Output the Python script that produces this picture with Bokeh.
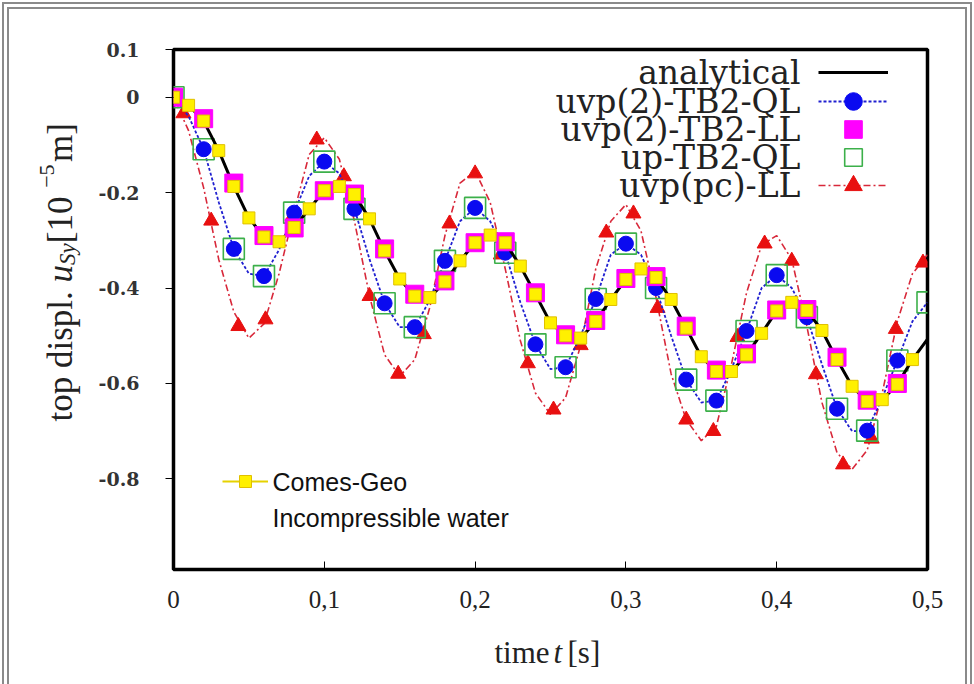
import math
from bokeh.plotting import figure
from bokeh.layouts import row, column
from bokeh.models import (Label, Legend, LegendItem, FixedTicker, CustomJSTickFormatter)
from bokeh.embed import file_html
from bokeh.resources import INLINE

# ---------------- data ----------------
t_fine = [0.00, 0.01, 0.02, 0.03, 0.04, 0.05, 0.06, 0.07, 0.08, 0.09,
          0.10, 0.11, 0.12, 0.13, 0.14, 0.15, 0.16, 0.17, 0.18, 0.19,
          0.20, 0.21, 0.22, 0.23, 0.24, 0.25, 0.26, 0.27, 0.28, 0.29,
          0.30, 0.31, 0.32, 0.33, 0.34, 0.35, 0.36, 0.37, 0.38, 0.39,
          0.40, 0.41, 0.42, 0.43, 0.44, 0.45, 0.46, 0.47, 0.48, 0.49, 0.50]

analytical = [0.0, -0.017, -0.05, -0.112, -0.187, -0.253, -0.293, -0.303, -0.273, -0.234,
              -0.196, -0.187, -0.204, -0.255, -0.322, -0.381, -0.417, -0.42, -0.387, -0.343,
              -0.305, -0.289, -0.305, -0.354, -0.413, -0.473, -0.50, -0.505, -0.47, -0.424,
              -0.382, -0.36, -0.378, -0.424, -0.484, -0.544, -0.575, -0.575, -0.54, -0.495,
              -0.448, -0.43, -0.447, -0.489, -0.55, -0.606, -0.638, -0.634, -0.602, -0.55, -0.507]

t_comes = t_fine[:50]
comes_geo = [0.0, -0.017, -0.05, -0.112, -0.187, -0.253, -0.293, -0.303, -0.273, -0.234,
             -0.196, -0.187, -0.204, -0.255, -0.322, -0.381, -0.417, -0.42, -0.387, -0.343,
             -0.305, -0.289, -0.305, -0.354, -0.413, -0.473, -0.50, -0.505, -0.47, -0.424,
             -0.382, -0.36, -0.378, -0.424, -0.484, -0.544, -0.575, -0.575, -0.54, -0.495,
             -0.448, -0.43, -0.447, -0.489, -0.55, -0.606, -0.638, -0.634, -0.602, -0.55]

blue_curve = [0.0, -0.04, -0.109, -0.22, -0.318, -0.37, -0.375, -0.32, -0.242, -0.165,
              -0.135, -0.16, -0.234, -0.34, -0.432, -0.482, -0.482, -0.425, -0.343, -0.26,
              -0.232, -0.26, -0.326, -0.43, -0.518, -0.57, -0.566, -0.50, -0.423, -0.33,
              -0.307, -0.33, -0.40, -0.50, -0.592, -0.64, -0.636, -0.57, -0.49, -0.40,
              -0.373, -0.40, -0.461, -0.56, -0.653, -0.70, -0.699, -0.63, -0.552, -0.47, -0.43]

red_curve = [0.0, -0.07, -0.19, -0.34, -0.45, -0.505, -0.475, -0.37, -0.24, -0.12,
             -0.085, -0.13, -0.26, -0.417, -0.54, -0.585, -0.55, -0.44, -0.29, -0.18,
             -0.155, -0.22, -0.36, -0.51, -0.62, -0.665, -0.63, -0.52, -0.36, -0.26,
             -0.225, -0.28, -0.42, -0.58, -0.676, -0.72, -0.69, -0.56, -0.41, -0.31,
             -0.29, -0.34, -0.48, -0.64, -0.745, -0.78, -0.74, -0.62, -0.47, -0.37, -0.33]

t_blue_pts = [0.02, 0.04, 0.06, 0.08, 0.10, 0.12, 0.14, 0.16, 0.18, 0.20, 0.22, 0.24,
              0.26, 0.28, 0.30, 0.32, 0.34, 0.36, 0.38, 0.40, 0.42, 0.44, 0.46, 0.48]
blue_pts = [-0.109, -0.318, -0.375, -0.242, -0.135, -0.234, -0.432, -0.482, -0.343, -0.232,
            -0.326, -0.518, -0.566, -0.423, -0.307, -0.40, -0.592, -0.636, -0.49, -0.373,
            -0.461, -0.653, -0.699, -0.552]

t_green = [0.00, 0.02, 0.04, 0.06, 0.08, 0.10, 0.12, 0.14, 0.16, 0.18, 0.20, 0.22, 0.24,
           0.26, 0.28, 0.30, 0.32, 0.34, 0.36, 0.38, 0.40, 0.42, 0.44, 0.46, 0.48, 0.50]
green_pts = [0.0, -0.109, -0.318, -0.375, -0.242, -0.135, -0.234, -0.432, -0.482, -0.343,
             -0.232, -0.326, -0.518, -0.566, -0.423, -0.307, -0.40, -0.592, -0.636, -0.49,
             -0.373, -0.461, -0.653, -0.699, -0.552, -0.43]

t_magenta = [0.00, 0.02, 0.04, 0.06, 0.08, 0.10, 0.12, 0.14, 0.16, 0.18, 0.20, 0.22, 0.24,
             0.26, 0.28, 0.30, 0.32, 0.34, 0.36, 0.38, 0.40, 0.42, 0.44, 0.46, 0.48]
magenta_pts = [0.0, -0.045, -0.18, -0.29, -0.274, -0.196, -0.203, -0.318, -0.413, -0.385,
               -0.305, -0.303, -0.41, -0.498, -0.468, -0.38, -0.376, -0.48, -0.572, -0.538,
               -0.446, -0.445, -0.545, -0.635, -0.60]

t_red_pts = [0.0066, 0.025, 0.043, 0.061, 0.079, 0.095, 0.113, 0.130, 0.149, 0.166,
             0.183, 0.200, 0.217, 0.235, 0.252, 0.270, 0.287, 0.305, 0.321, 0.340,
             0.358, 0.374, 0.392, 0.410, 0.426, 0.444, 0.463, 0.479, 0.497]
red_pts = [-0.034, -0.259, -0.48, -0.466, -0.25, -0.089, -0.166, -0.417, -0.58, -0.497,
           -0.265, -0.16, -0.33, -0.558, -0.655, -0.52, -0.284, -0.244, -0.442, -0.676,
           -0.70, -0.503, -0.307, -0.343, -0.581, -0.77, -0.716, -0.486, -0.347]

x_ticks = [0.0, 0.1, 0.2, 0.3, 0.4, 0.5]
y_ticks = [0.1, 0.0, -0.2, -0.4, -0.6, -0.8]
legend_names = ["analytical", "uvp(2)-TB2-QL", "uvp(2)-TB2-LL", "up-TB2-QL", "uvp(pc)-LL"]

# ---------------- layout (page pixels) ----------------
W, H = 974, 684
YW = 90            # width of the strip holding the y title
XH = 60            # height of the strip holding the x title
FL, FR, FT, FB = 173, 927, 49, 569   # plot frame edges on the page
MW, MH = W - YW, H - XH               # main figure size

SERIF = "Liberation Serif"

p = figure(width=MW, height=MH, output_backend="svg", toolbar_location=None,
           x_range=(0.0, 0.5), y_range=(-0.99, 0.1),
           min_border_left=FL - YW, min_border_right=W - FR,
           min_border_top=FT, min_border_bottom=MH - FB)
p.background_fill_color = "white"
p.border_fill_color = None
p.outline_line_color = "black"
p.outline_line_width = 3.5
p.grid.visible = False


def lx(x):   # page x -> frame-relative screen units of the main figure
    return x - FL


def ly(y):   # page y -> frame-relative screen units (upwards)
    return FB - y


xa = p.xaxis[0]
xa.ticker = FixedTicker(ticks=x_ticks)
xa.formatter = CustomJSTickFormatter(code="return tick == 0 ? '0' : tick.toFixed(1).replace('.', ',');")
xa.axis_line_color = None
xa.major_tick_in = 8
xa.major_tick_out = 0
xa.minor_tick_line_color = None
xa.major_label_standoff = 21
xa.major_label_text_font = SERIF
xa.major_label_text_font_size = "25px"
xa.major_label_text_color = "#222222"

ya = p.yaxis[0]
ya.ticker = FixedTicker(ticks=y_ticks)
ya.formatter = CustomJSTickFormatter(code="return Math.abs(tick) < 1e-9 ? '0' : tick.toFixed(1);")
ya.axis_line_color = None
ya.major_tick_in = 0
ya.major_tick_out = 8
ya.minor_tick_line_color = None
ya.major_label_standoff = 26
ya.major_label_text_font = "DejaVu Serif"
ya.major_label_text_font_style = "bold"
ya.major_label_text_font_size = "19px"
ya.major_label_text_color = "#333333"

# ---------------- series ----------------
r_red_line = p.line(t_fine, red_curve, line_color="#d8283a", line_width=1.6, line_dash="7 3 2 3")
r_red_pts = p.scatter(t_red_pts, red_pts, marker="triangle", size=15,
                      fill_color="#e81010", line_color="#e81010")
r_blue_line = p.line(t_fine, blue_curve, line_color="#2020d0", line_width=1.8, line_dash="3 2")
r_green = p.scatter(t_green, green_pts, marker="square", size=21, fill_color=None,
                    line_color="#3cb04a", line_width=1.6)
r_blue_pts = p.scatter(t_blue_pts, blue_pts, marker="circle", size=15,
                       fill_color="#0a0af0", line_color="#0a0af0")
r_yellow_line = p.line(t_comes, comes_geo, line_color="#e6d200", line_width=2)
r_black = p.line(t_fine, analytical, line_color="black", line_width=3)
r_magenta = p.scatter(t_magenta, magenta_pts, marker="square", size=18,
                      fill_color="#ff00ff", line_color="#ff00ff")
r_yellow_pts = p.scatter(t_comes, comes_geo, marker="square", size=12,
                         fill_color="#fff000", line_color="#e0c000", line_width=1)

# ---------------- legend (text right aligned, sample on the right) ----------------
rows_y = [72, 101, 129, 157, 185]
row_renderers = [[r_black], [r_blue_line, r_blue_pts], [r_magenta], [r_green],
                 [r_red_line, r_red_pts]]
GH = 44
for name, yc, rends in zip(legend_names, rows_y, row_renderers):
    p.add_layout(Label(x=lx(800), y=ly(yc), x_units="screen", y_units="screen", text=name,
                       text_align="right", text_baseline="middle",
                       text_font="DejaVu Serif", text_font_size="33px", text_color="#222222"))
    lg = Legend(items=[LegendItem(label=" ", renderers=rends)],
                location=(818 - FL, FB - (yc + GH / 2)),
                glyph_width=70, glyph_height=GH, label_height=GH, label_width=0,
                label_standoff=0, label_text_font_size="4px", padding=0, margin=0,
                spacing=0, border_line_color=None, background_fill_alpha=0)
    p.add_layout(lg)

# Comes-Geo inset legend
lg2 = Legend(items=[LegendItem(label=" ", renderers=[r_yellow_line, r_yellow_pts])],
             location=(222 - FL, FB - (481 + 15)), glyph_width=46, glyph_height=30,
             label_height=30, label_width=0, label_standoff=0, label_text_font_size="4px",
             padding=0, margin=0, spacing=0, border_line_color=None, background_fill_alpha=0)
p.add_layout(lg2)
p.add_layout(Label(x=lx(272), y=ly(481), x_units="screen", y_units="screen", text="Comes-Geo",
                   text_align="left", text_baseline="middle", text_font="Liberation Sans",
                   text_font_size="25px", text_color="#111111"))
p.add_layout(Label(x=lx(272), y=ly(517), x_units="screen", y_units="screen",
                   text="Incompressible water", text_align="left", text_baseline="middle",
                   text_font="Liberation Sans", text_font_size="25px", text_color="#111111"))


# ---------------- title strips (figures whose frame is the whole strip) ----------------
def strip(w, h):
    f = figure(width=w, height=h, output_backend="svg", toolbar_location=None,
               x_range=(0, 1), y_range=(0, 1), min_border=0,
               x_axis_location=None, y_axis_location=None)
    f.grid.visible = False
    f.outline_line_color = None
    f.background_fill_color = None
    f.border_fill_color = None
    return f


# y title strip
ys = strip(YW, H)
ang = math.pi / 2
YB = 60          # baseline x position
ystart = 421     # page y where the text begins (bottom)
FS = 35
pieces = [("top displ. ", FS, "normal", 0, 3.973),
          ("u", FS, "italic", 0, 0.5),
          ("Sy", 23, "italic", 7, 0.944),
          (" [10", FS, "normal", 0, 1.583),
          ("\u22125", 22, "normal", -14, 1.175),
          (" m]", FS, "normal", 0, 1.361)]
pos = ystart
for txt, fs, style, dx, em in pieces:
    ys.add_layout(Label(x=YB + dx, y=H - pos, x_units="screen", y_units="screen", text=txt,
                        angle=ang, text_align="left", text_baseline="alphabetic",
                        text_font=SERIF, text_font_style=style, text_font_size=f"{fs}px",
                        text_color="#222222"))
    pos -= em * fs

# x title strip (its frame lines up with the plot frame)
xs = strip(MW, XH)
XB = 664
for txt, xx, style in [("time", 494, "normal"), ("t", 553, "italic"), ("[s]", 567, "normal")]:
    xs.add_layout(Label(x=xx - FL, y=H - XB + 12, x_units="screen", y_units="screen", text=txt,
                        text_align="left", text_baseline="alphabetic", text_font=SERIF,
                        text_font_style=style, text_font_size="31px", text_color="#222222"))

grey = "linear-gradient(#8a8a8a,#8a8a8a)"
root = row(ys, column(p, xs, spacing=0), spacing=0,
           styles={"background-color": "white",
                   "background-image": ", ".join([grey] * 6),
                   "background-repeat": "no-repeat",
                   "background-size": "2px 100%, 2px 100%, calc(100% - 4px) 2px, "
                                      "calc(100% - 14px) 2px, 2px 100%, 2px 100%",
                   "background-position": "2px 2px, 7px 7px, 2px 2px, 7px 7px, "
                                          "calc(100% - 2px) 2px, calc(100% - 7px) 7px"})

open("out.html", "w").write(file_html(root, INLINE))
